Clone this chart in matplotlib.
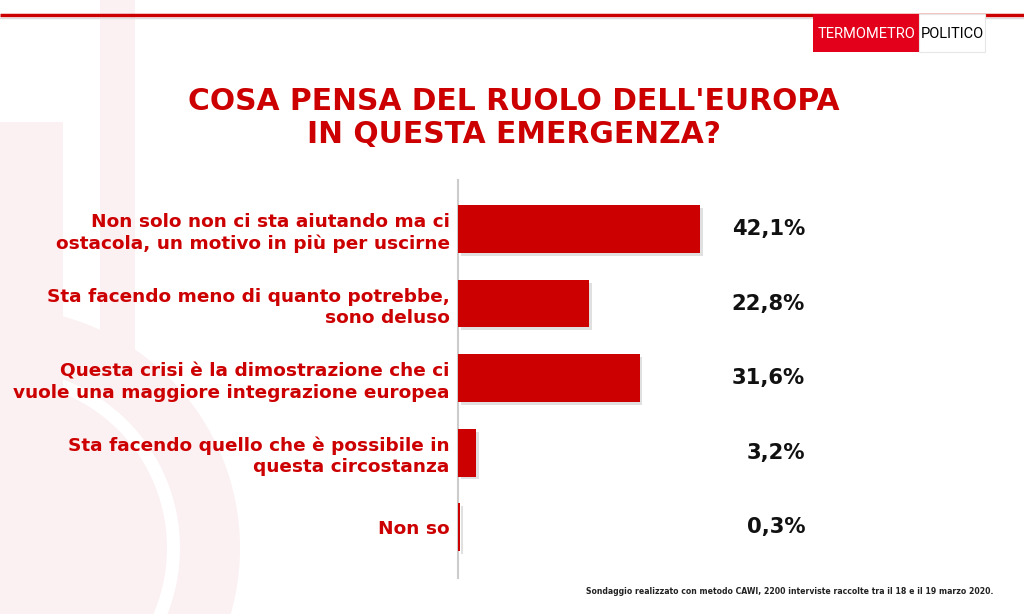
import matplotlib
matplotlib.use("Agg")
import matplotlib.pyplot as plt
from matplotlib.patches import Rectangle, Circle, Wedge
import matplotlib.patheffects as pe
import matplotlib.transforms as mtransforms

categories = [
    "Non solo non ci sta aiutando ma ci\nostacola, un motivo in più per uscirne",
    "Sta facendo meno di quanto potrebbe,\nsono deluso",
    "Questa crisi è la dimostrazione che ci\nvuole una maggiore integrazione europea",
    "Sta facendo quello che è possibile in\nquesta circostanza",
    "Non so",
]
values = [42.1, 22.8, 31.6, 3.2, 0.3]
value_labels = ["42,1%", "22,8%", "31,6%", "3,2%", "0,3%"]

title = "COSA PENSA DEL RUOLO DELL'EUROPA\nIN QUESTA EMERGENZA?"
footnote = "Sondaggio realizzato con metodo CAWI, 2200 interviste raccolte tra il 18 e il 19 marzo 2020."

RED = "#cc0000"
PINK = "#fbf0f2"
W, H = 1024, 614
FONT = "DejaVu Sans"

fig = plt.figure(figsize=(W / 100, H / 100), dpi=100)
fig.patch.set_facecolor("white")

# background watermark (pixel coordinates, origin top-left)
bg = fig.add_axes([0, 0, 1, 1], zorder=0)
bg.set_xlim(0, W)
bg.set_ylim(H, 0)
bg.axis("off")
bg.add_patch(Wedge((0, 548), 240, -90, 90, width=60, color=PINK, lw=0))
bg.add_patch(Circle((0, 548), 167, color=PINK, lw=0))
bg.add_patch(Rectangle((0, 122), 63, H - 122, color=PINK, lw=0))
bg.add_patch(Rectangle((100, 0), 35, 350, color=PINK, lw=0))
# top rule
bg.plot([0, W], [15, 15], color=RED, lw=2.5, solid_capstyle="butt")
bg.plot([0, W], [17.5, 17.5], color="#dddddd", lw=1.0)
# logo
bg.add_patch(Rectangle((813, 14), 106, 38, color="#e3001b", lw=0, zorder=3))
bg.add_patch(Rectangle((919, 14), 66, 38, facecolor="white", edgecolor="#e6e6e6", lw=0.8, zorder=3))
bg.text(866, 34, "TERMOMETRO", color="white", fontsize=10.5, family="Roboto",
        ha="center", va="center", zorder=4)
bg.text(952, 34, "POLITICO", color="black", fontsize=10.5, family="Roboto",
        ha="center", va="center", zorder=4)

# title
bg.text(514, 118, title, color=RED, fontsize=21.4, fontweight="bold", family=FONT,
        ha="center", va="center", linespacing=1.15)
# footnote
bg.text(993, 591, footnote, color="#222222", fontsize=5.6, fontweight="bold", family=FONT,
        ha="right", va="center")

# main chart axes: x from 458 px to 1000 px, y from 180 px to 578 px
ax = fig.add_axes([458 / W, 1 - 578 / H, (1000 - 458) / W, (578 - 180) / H], zorder=2)
ax.patch.set_alpha(0)
ypos = list(range(len(categories)))
bars = ax.barh(ypos, values, height=0.64, color=RED, zorder=3)
for b in bars:
    b.set_path_effects([pe.SimplePatchShadow(offset=(2, -2), shadow_rgbFace="#999999", alpha=0.3), pe.Normal()])
ax.set_xlim(0, 542 / 5.75)
ax.set_ylim(4.68, -0.658)
for s in ["top", "right", "bottom"]:
    ax.spines[s].set_visible(False)
ax.spines["left"].set_color("#cccccc")
ax.spines["left"].set_linewidth(1.5)
ax.set_xticks([])
ax.set_yticks(ypos)
ax.set_yticklabels(categories, color=RED, fontsize=13.3, fontweight="bold", family=FONT,
                   linespacing=1.25)
ax.tick_params(axis="y", length=0, pad=6)
for lbl in ax.get_yticklabels():
    lbl.set_horizontalalignment("right")
    lbl.set_multialignment("right")

tr = mtransforms.blended_transform_factory(bg.transData, ax.transData)
for y, lab in zip(ypos, value_labels):
    ax.text(805, y, lab, transform=tr, ha="right", va="center", fontsize=15.2,
            fontweight="bold", family=FONT, color="#111111")

fig.savefig("out.png", dpi=100, facecolor="white")
